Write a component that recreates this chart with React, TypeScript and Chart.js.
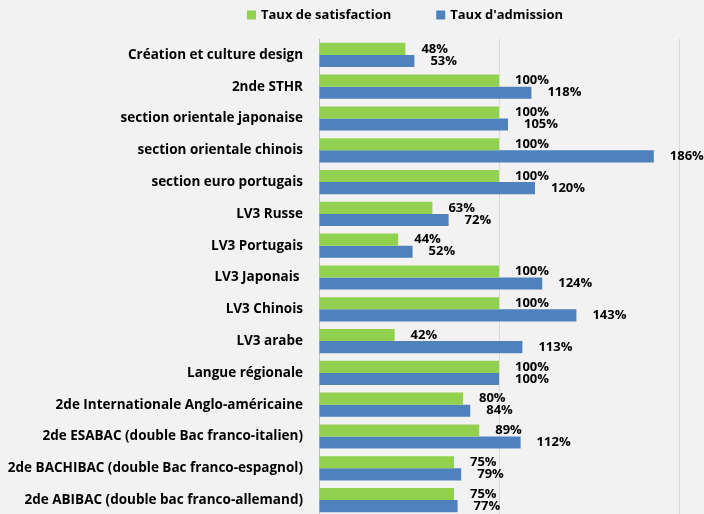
import React, { useEffect, useRef } from "react";
import { Chart, registerables } from "chart.js";

Chart.register(...registerables);

const categories = [
  "Création et culture design",
  "2nde STHR",
  "section orientale japonaise",
  "section orientale chinois",
  "section euro portugais",
  "LV3 Russe",
  "LV3 Portugais",
  "LV3 Japonais ",
  "LV3 Chinois",
  "LV3 arabe",
  "Langue régionale",
  "2de Internationale Anglo-américaine",
  "2de ESABAC (double Bac franco-italien)",
  "2de BACHIBAC (double Bac franco-espagnol)",
  "2de ABIBAC (double bac franco-allemand)",
];

const satisfaction = [48, 100, 100, 100, 100, 63, 44, 100, 100, 42, 100, 80, 89, 75, 75];
const admission = [53, 118, 105, 186, 120, 72, 52, 124, 143, 113, 100, 84, 112, 79, 77];

const seriesNames = ["Taux de satisfaction", "Taux d'admission"];
const seriesColors = ["#92d050", "#4f81bd"];

const FONT = "'Open Sans', sans-serif";

const valueLabels = {
  id: "valueLabels",
  afterDatasetsDraw(chart: any) {
    const ctx = chart.ctx;
    ctx.save();
    ctx.font = `bold 13px ${FONT}`;
    ctx.fillStyle = "#000";
    ctx.textAlign = "left";
    ctx.textBaseline = "middle";
    chart.data.datasets.forEach((ds: any, di: number) => {
      const meta = chart.getDatasetMeta(di);
      meta.data.forEach((el: any, i: number) => {
        ctx.fillText(ds.data[i] + "%", el.x + 16, el.y);
      });
    });
    ctx.restore();
  },
};

const customLegend = {
  id: "customLegend",
  afterDraw(chart: any, _args: any, opts: any) {
    const ctx = chart.ctx;
    ctx.save();
    ctx.font = `bold 13px ${FONT}`;
    ctx.textBaseline = "middle";
    ctx.textAlign = "left";
    const box = 9;
    const gapText = 5;
    const gapItem = 45;
    const items = chart.data.datasets.map((d: any) => ({
      text: d.label,
      color: d.backgroundColor,
      w: box + gapText + ctx.measureText(d.label).width,
    }));
    const total = items.reduce((s: number, it: any) => s + it.w, 0) + gapItem * (items.length - 1);
    let x = opts.centerX - total / 2;
    const y = opts.y;
    items.forEach((it: any) => {
      ctx.fillStyle = it.color;
      ctx.fillRect(x, y - box / 2, box, box);
      ctx.fillStyle = "#000";
      ctx.fillText(it.text, x + box + gapText, y);
      x += it.w + gapItem;
    });
    ctx.restore();
  },
};

function zeroPad(s: any) {
  s.paddingTop = 0;
  s.paddingBottom = 0;
  s.paddingLeft = 0;
  s.paddingRight = 0;
}

export default function App() {
  const ref = useRef<HTMLCanvasElement>(null);
  useEffect(() => {
    if (!ref.current) return;
    const chart = new Chart(ref.current, {
      type: "bar",
      data: {
        labels: categories,
        datasets: [
          { label: seriesNames[0], data: satisfaction, backgroundColor: seriesColors[0] },
          { label: seriesNames[1], data: admission, backgroundColor: seriesColors[1] },
        ],
      },
      options: {
        indexAxis: "y",
        animation: false,
        responsive: false,
        maintainAspectRatio: false,
        layout: { padding: { top: 39, right: 25, left: 0, bottom: 0 } },
        datasets: { bar: { categoryPercentage: 0.76, barPercentage: 1 } },
        plugins: {
          legend: { display: false },
          tooltip: { enabled: false },
          customLegend: { centerX: 405, y: 15 },
        } as any,
        scales: {
          x: {
            min: 0,
            max: 200,
            ticks: { display: false, stepSize: 100 },
            grid: { color: "#d9d9d9", drawTicks: false, lineWidth: 1 },
            border: { display: false },
            afterFit(scale: any) {
              scale.height = 0;
              zeroPad(scale);
            },
          },
          y: {
            ticks: { color: "#000", font: { family: FONT, weight: "bold", size: 13.5 }, padding: 16, autoSkip: false },
            grid: { display: false, drawTicks: false },
            border: { display: true, color: "#bfbfbf" },
            afterFit(scale: any) {
              scale.width = 319;
              zeroPad(scale);
            },
          },
        },
      },
      plugins: [valueLabels, customLegend],
    });
    return () => chart.destroy();
  }, []);
  return (
    <div style={{ position: "fixed", left: 0, top: 0, width: 704, height: 514, overflow: "hidden", background: "#f2f2f2" }}>
      <canvas ref={ref} width={704} height={516} style={{ display: "block" }} />
    </div>
  );
}
